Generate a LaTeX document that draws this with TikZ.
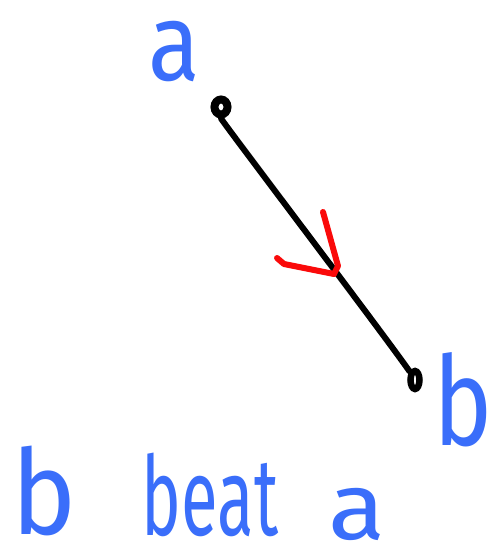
\documentclass[tikz,border=0pt]{standalone}
\usepackage{fontspec}
\newfontfamily\hand{Fira Sans}
\usetikzlibrary{shapes.geometric}
\definecolor{handblue}{RGB}{58,110,250}
\definecolor{handred}{RGB}{250,10,10}
\tikzset{
  lbl/.style={text=handblue, inner sep=0pt, font=\hand\fontsize{100}{100}\selectfont},
  dot/.style={draw=black, ellipse, inner sep=0pt},
  edge/.style={draw=black, line width=6pt, line cap=round},
  arr/.style={draw=handred, line width=6pt, line cap=round, line join=round}
}
\begin{document}
\begin{tikzpicture}[x=1pt,y=-1pt]
\useasboundingbox[fill=white] (0,0) rectangle (497,548);
\node[lbl, xscale=0.95, yscale=1.1] (la) at (174,52) {a};
\node[lbl, xscale=1.0, yscale=1.24] (lb) at (463,400) {b};
\node[dot, line width=8pt, minimum width=13pt, minimum height=15pt] (A) at (221,107) {};
\node[dot, line width=6.5pt, minimum width=9pt, minimum height=18pt] (B) at (415,380) {};
\draw[edge] (A.south) .. controls (236,140) and (382,332) .. (B.north west);
\coordinate (h1) at (277,258);
\coordinate (h2) at (284,264);
\coordinate (tip) at (334,274);
\coordinate (h3) at (338,266);
\coordinate (h4) at (323,212);
\draw[arr] (h1) -- (h2) -- (tip) -- (h3) -- (h4);
\node[lbl, xscale=1.1, yscale=1.18] (w1) at (44,491) {b};
\node[lbl, xscale=0.67, yscale=1.1] (w2) at (210,495) {beat};
\node[lbl, xscale=1.05, yscale=0.95] (w3) at (357,514) {a};
\end{tikzpicture}
\end{document}
